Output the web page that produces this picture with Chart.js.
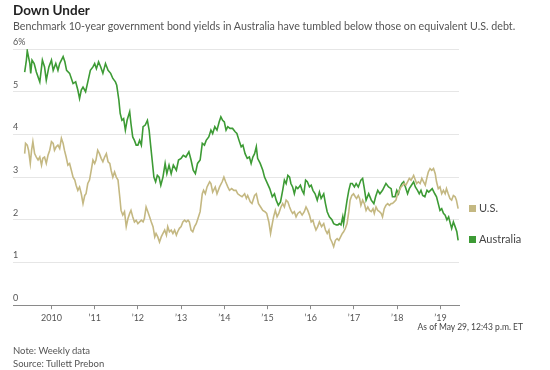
<!DOCTYPE html>
<html>
<head>
<meta charset="utf-8">
<script src="https://cdn.jsdelivr.net/npm/chart.js@4.4.1/dist/chart.umd.min.js"></script>
<style>
  html, body { margin: 0; padding: 0; background: #fff; }
  #wrap { position: relative; width: 550px; height: 370px; font-family: Lato, "Noto Sans", sans-serif; color: #333; }
  #wrap canvas { position: absolute; left: 0; top: 0; }
  .txt { position: absolute; white-space: nowrap; }
  .title { left: 13px; top: 2px; font-size: 13.5px; font-weight: bold; color: #222; line-height: 16px; }
  .sub { left: 13px; top: 19px; font-size: 10.7px; color: #555; line-height: 14px; }
  .leg { left: 469px; font-size: 11px; color: #444; line-height: 14px; }
  .leg i { display: inline-block; width: 7px; height: 7px; margin-right: 3px; vertical-align: 0px; }
  .foot { left: 13px; font-size: 9.5px; color: #555; line-height: 12px; }
  .asof { right: 27px; top: 321px; font-size: 8.5px; color: #444; line-height: 12px; }
</style>
</head>
<body>
<div id="wrap">
  <canvas id="chart" width="550" height="370"></canvas>
  <div class="txt title">Down Under</div>
  <div class="txt sub">Benchmark 10-year government bond yields in Australia have tumbled below those on equivalent U.S. debt.</div>
  <div class="txt leg" style="top:201px"><i style="background:#c4b882"></i>U.S.</div>
  <div class="txt leg" style="top:232px"><i style="background:#3d9b35"></i>Australia</div>
  <div class="txt asof">As of May 29, 12:43 p.m. ET</div>
  <div class="txt foot" style="top:345px">Note: Weekly data</div>
  <div class="txt foot" style="top:358px">Source: Tullett Prebon</div>
</div>
<script>
// x positions are decimal years
const ausYears = [
  2009.38, 2009.42, 2009.44, 2009.50, 2009.52, 2009.55, 2009.60, 2009.65, 2009.73, 2009.79,
  2009.84, 2009.88, 2009.94, 2010.00, 2010.04, 2010.10, 2010.15, 2010.19, 2010.27, 2010.31,
  2010.35, 2010.42, 2010.50, 2010.56, 2010.61, 2010.65, 2010.69, 2010.73, 2010.79, 2010.85,
  2010.90, 2010.96, 2011.00, 2011.04, 2011.09, 2011.14, 2011.19, 2011.25, 2011.31, 2011.37,
  2011.42, 2011.48, 2011.51, 2011.56, 2011.59, 2011.63, 2011.67, 2011.71, 2011.75, 2011.81,
  2011.84, 2011.88, 2011.92, 2011.96, 2012.00, 2012.04, 2012.08, 2012.12, 2012.17, 2012.22,
  2012.26, 2012.29, 2012.33, 2012.37, 2012.41, 2012.45, 2012.49, 2012.53, 2012.58, 2012.63,
  2012.67, 2012.72, 2012.77, 2012.82, 2012.89, 2012.94, 2013.00, 2013.05, 2013.11, 2013.18,
  2013.23, 2013.28, 2013.33, 2013.38,
  2013.44, 2013.49, 2013.54, 2013.58, 2013.64, 2013.69, 2013.73, 2013.78, 2013.83, 2013.88,
  2013.92, 2013.96, 2014.00, 2014.04, 2014.08, 2014.13, 2014.19, 2014.25, 2014.29, 2014.34,
  2014.39, 2014.43, 2014.48, 2014.53, 2014.58, 2014.62, 2014.66, 2014.70, 2014.74, 2014.77,
  2014.83, 2014.89, 2014.93, 2014.98, 2015.05, 2015.11, 2015.16, 2015.20, 2015.25, 2015.30,
  2015.35, 2015.39, 2015.43, 2015.47, 2015.51, 2015.54, 2015.58, 2015.62, 2015.66, 2015.70,
  2015.76, 2015.80, 2015.84, 2015.88, 2015.92, 2015.97, 2016.01, 2016.05, 2016.10, 2016.15,
  2016.20, 2016.24, 2016.30, 2016.34, 2016.38, 2016.43, 2016.49, 2016.53, 2016.59, 2016.63,
  2016.66, 2016.70, 2016.74, 2016.76, 2016.80, 2016.84, 2016.88, 2016.92, 2016.96, 2017.01,
  2017.05, 2017.10,
  2017.16, 2017.20, 2017.24, 2017.28, 2017.34, 2017.40, 2017.46, 2017.50, 2017.55, 2017.60,
  2017.66, 2017.70, 2017.74, 2017.80, 2017.86, 2017.89, 2017.95, 2017.99, 2018.03, 2018.07,
  2018.11, 2018.15, 2018.19, 2018.24, 2018.28, 2018.33, 2018.38, 2018.42, 2018.47, 2018.51,
  2018.55, 2018.59, 2018.64, 2018.69, 2018.73, 2018.77, 2018.81, 2018.87, 2018.91, 2018.95,
  2018.99, 2019.03, 2019.07, 2019.11, 2019.15, 2019.19, 2019.23, 2019.26, 2019.30, 2019.34,
  2019.38, 2019.41
];
const ausYields = [
  5.46, 5.74, 5.96, 5.66, 5.43, 5.74, 5.66, 5.46, 5.23, 5.74,
  5.58, 5.27, 5.58, 5.74, 5.50, 5.66, 5.50, 5.66, 5.82, 5.70,
  5.50, 5.43, 5.19, 5.23, 5.04, 4.84, 5.04, 5.11, 5.00, 5.27,
  5.50, 5.58, 5.66, 5.54, 5.70, 5.58, 5.43, 5.66, 5.50, 5.43,
  5.31, 5.23, 5.15, 4.80, 4.49, 4.33, 4.37, 4.10, 4.33, 4.53,
  4.25, 3.94, 3.86, 3.75, 3.75, 3.86, 3.75, 4.18, 4.22, 4.33,
  4.10, 3.79, 3.40, 3.00, 2.89, 3.04, 3.00, 2.81, 3.00, 3.32,
  3.08, 3.28, 3.08, 3.28, 3.16, 3.40, 3.44, 3.51, 3.47, 3.59,
  3.40, 3.16, 3.08, 3.32,
  3.40, 3.79, 3.75, 3.86, 3.94, 4.10, 4.02, 4.18, 4.10, 4.29,
  4.41, 4.33, 4.29, 4.10, 4.18, 4.14, 4.14, 4.06, 4.02, 3.86,
  3.71, 3.75, 3.55, 3.44, 3.47, 3.32, 3.47, 3.55, 3.71, 3.44,
  3.32, 3.16, 3.00, 2.89, 2.73, 2.54, 2.61, 2.46, 2.34, 2.42,
  2.69, 2.93, 2.85, 3.04, 3.00, 2.85, 2.77, 2.61, 2.77, 2.73,
  2.81, 2.69, 2.61, 2.93, 2.89, 2.77, 2.81, 2.69, 2.61, 2.46,
  2.65, 2.50, 2.61, 2.38, 2.19, 2.07, 2.00, 1.91, 1.88, 1.88,
  1.91, 1.88, 2.07, 1.91, 2.19, 2.46, 2.69, 2.85, 2.85, 2.77,
  2.85, 2.77,
  2.93, 2.97, 2.73, 2.46, 2.61, 2.46, 2.38, 2.54, 2.69, 2.61,
  2.69, 2.77, 2.85, 2.77, 2.73, 2.54, 2.54, 2.69, 2.61, 2.77,
  2.85, 2.89, 2.77, 2.61, 2.73, 2.81, 2.89, 2.77, 2.69, 2.61,
  2.69, 2.57, 2.54, 2.69, 2.65, 2.69, 2.73, 2.61, 2.54, 2.38,
  2.22, 2.26, 2.15, 2.11, 2.00, 2.07, 1.91, 1.80, 1.95, 1.84,
  1.72, 1.52
];
const usYears = [
  2009.38, 2009.40, 2009.44, 2009.47, 2009.51, 2009.54, 2009.57, 2009.61, 2009.65, 2009.69,
  2009.73, 2009.77, 2009.80, 2009.84, 2009.88, 2009.92, 2009.96,
  2010.00, 2010.04, 2010.07, 2010.11, 2010.15, 2010.19, 2010.23, 2010.27, 2010.30, 2010.34,
  2010.38, 2010.42, 2010.46, 2010.50, 2010.54, 2010.57, 2010.61, 2010.65, 2010.69, 2010.73,
  2010.77, 2010.80, 2010.84, 2010.88, 2010.92, 2010.96,
  2011.00, 2011.03, 2011.07, 2011.11, 2011.15, 2011.19, 2011.23, 2011.27, 2011.31, 2011.35,
  2011.38, 2011.42, 2011.46, 2011.50, 2011.54, 2011.58, 2011.61, 2011.65, 2011.69, 2011.73,
  2011.77, 2011.81, 2011.84, 2011.88, 2011.92, 2011.96,
  2012.00, 2012.04, 2012.08, 2012.12, 2012.15, 2012.19, 2012.23, 2012.27, 2012.31, 2012.35,
  2012.39, 2012.42, 2012.46, 2012.50, 2012.54, 2012.58, 2012.62, 2012.66, 2012.69, 2012.73,
  2012.77, 2012.81, 2012.85, 2012.89, 2012.92, 2012.96,
  2013.00, 2013.04, 2013.08, 2013.12, 2013.16, 2013.19, 2013.23, 2013.27, 2013.31, 2013.35,
  2013.39, 2013.44, 2013.49, 2013.52, 2013.56, 2013.60, 2013.66, 2013.69, 2013.73, 2013.79,
  2013.83, 2013.89, 2013.95, 2013.99,
  2014.03, 2014.08, 2014.12, 2014.17, 2014.22, 2014.27, 2014.31, 2014.36, 2014.41, 2014.47,
  2014.51, 2014.54, 2014.60, 2014.64, 2014.70, 2014.74, 2014.79, 2014.84, 2014.89, 2014.94,
  2014.98,
  2015.03, 2015.07, 2015.11, 2015.14, 2015.18, 2015.22, 2015.26, 2015.31, 2015.35, 2015.39,
  2015.43, 2015.47, 2015.51, 2015.54, 2015.58, 2015.62, 2015.66, 2015.70, 2015.75, 2015.80,
  2015.85, 2015.89, 2015.93, 2015.97,
  2016.01, 2016.05, 2016.08, 2016.12, 2016.16, 2016.20, 2016.25, 2016.30, 2016.34, 2016.38,
  2016.42, 2016.45, 2016.49, 2016.53, 2016.57, 2016.61, 2016.65, 2016.69, 2016.73, 2016.76,
  2016.80, 2016.84, 2016.88, 2016.91, 2016.95, 2016.99,
  2017.03, 2017.06, 2017.10, 2017.13, 2017.16, 2017.20, 2017.24, 2017.28, 2017.32, 2017.36,
  2017.40, 2017.44, 2017.47, 2017.51, 2017.55, 2017.59, 2017.63, 2017.66, 2017.70, 2017.74,
  2017.78, 2017.82, 2017.86, 2017.89, 2017.93, 2017.97,
  2018.01, 2018.05, 2018.09, 2018.13, 2018.16, 2018.20, 2018.24, 2018.28, 2018.32, 2018.36,
  2018.38, 2018.42, 2018.45, 2018.49, 2018.53, 2018.57, 2018.61, 2018.65, 2018.69, 2018.72,
  2018.76, 2018.80, 2018.84, 2018.88, 2018.91, 2018.95, 2018.99,
  2019.03, 2019.07, 2019.11, 2019.14, 2019.18, 2019.22, 2019.26, 2019.30, 2019.34, 2019.37,
  2019.41
];
const usYields = [
  3.55, 3.79, 3.75, 3.63, 3.32, 3.63, 3.83, 3.55, 3.47, 3.40,
  3.47, 3.28, 3.44, 3.47, 3.32, 3.51, 3.63,
  3.83, 3.79, 3.63, 3.71, 3.75, 3.67, 3.91, 3.79, 3.63, 3.47,
  3.28, 3.32, 3.16, 3.00, 2.93, 2.81, 2.69, 2.77, 2.61, 2.38,
  2.57, 2.61, 2.85, 2.93, 3.16, 3.40,
  3.32, 3.40, 3.63, 3.55, 3.44, 3.36, 3.47, 3.55, 3.36, 3.32,
  3.16, 3.00, 3.12, 3.00, 2.93, 2.54, 2.22, 2.11, 2.19, 1.84,
  2.03, 2.15, 2.22, 2.07, 1.95, 1.99,
  1.91, 1.95, 1.99, 1.95, 2.03, 2.30, 2.19, 2.07, 1.95, 1.84,
  1.60, 1.68, 1.60, 1.48, 1.60, 1.68, 1.76, 1.64, 1.84, 1.72,
  1.76, 1.68, 1.76, 1.64, 1.72, 1.80,
  1.84, 1.95, 1.99, 1.95, 1.99, 1.95, 1.76, 1.72, 1.84, 1.91,
  2.03, 2.19, 2.61, 2.69, 2.61, 2.77, 2.89, 2.85, 2.65, 2.77,
  2.61, 2.77, 2.89, 3.00,
  2.89, 2.77, 2.69, 2.73, 2.69, 2.69, 2.61, 2.57, 2.54, 2.61,
  2.50, 2.57, 2.42, 2.38, 2.57, 2.61, 2.38, 2.30, 2.22, 2.19,
  2.15,
  1.95, 1.68, 1.91, 2.07, 2.22, 2.07, 2.15, 2.30, 2.38, 2.30,
  2.46, 2.42, 2.30, 2.22, 2.15, 2.19, 2.07, 2.15, 2.19, 2.11,
  2.19, 2.30, 2.22, 2.11,
  1.95, 1.99, 1.88, 1.76, 1.84, 1.95, 1.84, 1.91, 1.76, 1.68,
  1.76, 1.56, 1.48, 1.37, 1.52, 1.56, 1.52, 1.60, 1.68, 1.72,
  1.80, 1.91, 2.19, 2.46, 2.57, 2.61,
  2.54, 2.50, 2.57, 2.50, 2.34, 2.46, 2.38, 2.22, 2.30, 2.22,
  2.19, 2.26, 2.15, 2.30, 2.22, 2.19, 2.15, 2.07, 2.26, 2.34,
  2.38, 2.34, 2.38, 2.38, 2.42, 2.46,
  2.61, 2.69, 2.77, 2.81, 2.85, 2.81, 2.89, 2.97, 2.93, 3.00,
  3.04, 2.93, 2.85, 2.89, 2.85, 2.97, 2.89, 2.81, 3.00, 3.12,
  3.20, 3.16, 3.20, 3.08, 2.89, 2.73, 2.77,
  2.61, 2.69, 2.61, 2.73, 2.61, 2.50, 2.46, 2.57, 2.54, 2.46,
  2.26
];
const yearTicks = [2010, 2011, 2012, 2013, 2014, 2015, 2016, 2017, 2018, 2019];
const yearLabels = ['2010', '\u201911', '\u201912', '\u201913', '\u201914', '\u201915', '\u201916', '\u201917', '\u201918', '\u201919'];
const yieldTicks = [0, 1, 2, 3, 4, 5, 6];

const toPoints = (xs, ys) => xs.map((x, i) => ({ x: x, y: ys[i] }));

const tickFont = { family: 'Lato, "Noto Sans", sans-serif', size: 9 };

new Chart(document.getElementById('chart'), {
    type: 'line',
    data: {
        datasets: [{
            label: 'U.S.',
            data: toPoints(usYears, usYields),
            borderColor: '#c4b882',
            borderWidth: 1.6,
            pointRadius: 0,
            tension: 0
        }, {
            label: 'Australia',
            data: toPoints(ausYears, ausYields),
            borderColor: '#3d9b35',
            borderWidth: 1.6,
            pointRadius: 0,
            tension: 0
        }]
    },
    options: {
        responsive: false,
        animation: false,
        layout: { padding: { left: 13, right: 91, top: 49, bottom: 44 } },
        plugins: {
            legend: { display: false },
            tooltip: { enabled: false }
        },
        scales: {
            x: {
                type: 'linear',
                min: 2009.11,
                max: 2019.43,
                afterBuildTicks: (scale) => { scale.ticks = yearTicks.map(v => ({ value: v })); },
                ticks: {
                    font: tickFont,
                    color: '#555',
                    padding: 3,
                    maxRotation: 0,
                    autoSkip: false,
                    callback: (v) => yearLabels[yearTicks.indexOf(v)]
                },
                grid: {
                    drawOnChartArea: false,
                    drawTicks: true,
                    tickLength: 4,
                    color: '#8a8a8a'
                },
                border: { display: true, color: '#8a8a8a', width: 1 }
            },
            y: {
                min: 0,
                max: 6,
                afterBuildTicks: (scale) => { scale.ticks = yieldTicks.map(v => ({ value: v })); },
                ticks: {
                    mirror: true,
                    padding: 0,
                    labelOffset: -7,
                    font: tickFont,
                    color: '#555',
                    callback: (v) => v === 6 ? '6%' : String(v)
                },
                grid: {
                    drawTicks: false,
                    color: (ctx) => ctx.tick && ctx.tick.value === 0 ? 'rgba(0,0,0,0)' : '#e6e6e6'
                },
                border: { display: false }
            }
        }
    }
});
</script>
</body>
</html>
